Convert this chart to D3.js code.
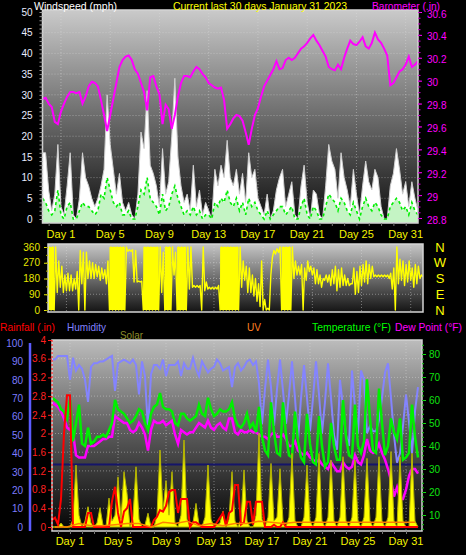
<!DOCTYPE html>
<html><head><meta charset="utf-8">
<script src="https://cdn.jsdelivr.net/npm/d3@7/dist/d3.min.js"></script>
<style>
html,body{margin:0;padding:0;background:#000;}
svg{display:block;font-family:"Liberation Sans",Arial,sans-serif;}
</style></head><body>
<svg id="c" width="466" height="555"></svg>
<script>
// ---------- DATA (one sample every 0.25 day, 123 samples, day 0 .. 30.5) ----------
const sampleStep = 0.25;
const dayLabels = ["Day 1","Day 5","Day 9","Day 13","Day 17","Day 21","Day 25","Day 31"];
const dayLabelPos = [1.5,5.5,9.5,13.5,17.5,21.5,25.5,29.5];
const windTicks = [0,5,10,15,20,25,30,35,40,45,50];
const baroTicks = [28.8,29.0,29.2,29.4,29.6,29.8,30.0,30.2,30.4,30.6];
const dirTicks = [0,90,180,270,360];
const dirLetters = ["N","E","S","W","N"];
const humTicks = [0,10,20,30,40,50,60,70,80,90,100];
const rainTicks = [0,0.4,0.8,1.2,1.6,2,2.4,2.8,3.2,3.6,4];
const tempTicks = [10,20,30,40,50,60,70,80];

const windGust = [
 16,16,7,2, 6,18,3,1, 8,16,1,0, 5,16,10,8, 5,3,5,8,
 12,30,18,12, 6,11,4,2, 4,1,0,6, 21,17,31,13, 11,8,3,17,
 6,9,20,34, 15,8,4,6, 2,13,3,7, 1,4,2,0, 12,8,13,10,
 19,10,8,12, 6,11,4,16, 10,12,5,3, 1,6,0,2, 7,10,12,3,
 6,9,1,0, 8,13,4,0, 7,6,1,0, 8,18,14,12, 5,16,10,7,
 3,12,6,1, 8,14,9,7, 12,10,3,0, 0,8,11,17, 12,6,9,3,
 9,5,2];
const windAvg = [
 5,4,2,1, 2,7,1,0, 3,4,0,0, 2,4,3,3, 2,1,2,6,
 5,10,7,4, 3,4,1,1, 2,0,0,3, 7,6,10,5, 4,3,1,6,
 2,3,6,8, 5,3,1,2, 1,3,1,2, 0,1,1,0, 4,3,5,4,
 7,4,3,5, 2,4,1,5, 3,4,2,1, 0,2,0,1, 2,3,3,1,
 2,3,0,0, 3,5,1,0, 3,2,0,0, 3,6,5,4, 2,5,4,2,
 1,4,2,0, 3,5,3,2, 4,3,1,0, 0,3,4,5, 4,2,3,1,
 4,2,1];
const barometer = [
 29.84,29.85,29.80,29.77, 29.64,29.62,29.73,29.80, 29.86,29.90,29.90,29.89,
 29.90,29.80,29.86,29.95, 29.99,29.98,29.95,29.83, 29.70,29.56,29.70,29.84,
 29.98,30.12,30.18,30.21, 30.22,30.18,30.10,30.06, 29.98,29.90,29.74,30.03,
 30.04,29.95,29.88,29.62, 29.79,29.75,29.58,29.70, 29.86,29.98,30.04,30.04,
 30.03,30.08,30.12,30.10, 30.06,30.03,29.98,29.96, 29.94,29.93,29.94,29.83,
 29.58,29.62,29.67,29.70, 29.69,29.65,29.55,29.44, 29.58,29.70,29.76,29.86,
 29.95,30.00,30.05,30.10, 30.17,30.10,30.11,30.18, 30.20,30.18,30.20,30.24,
 30.28,30.30,30.33,30.37, 30.40,30.35,30.31,30.26, 30.21,30.12,30.10,30.09,
 30.14,30.10,30.20,30.28, 30.35,30.32,30.31,30.34, 30.38,30.30,30.28,30.33,
 30.42,30.36,30.33,30.28, 30.22,29.96,29.98,30.03, 30.08,30.10,30.14,30.21,
 30.12,30.14,30.17];
const dirLow = [
 0,0,0,100, 130,100,110,110, 110,120,0,150, 0,180,180,180, 190,170,180,150,
 0,0,0,0, 0,0,335,335, 160,160,160,0, 0,0,0,0,
 0,100,0,0, 0,200,0,0, 0,0,120,130, 130,130,0,110, 120,120,120,120,
 0,0,0,0, 0,0,0,130, 170,100,100,80, 50,20,0,0,
 0,300,320,330, 0,0,0,0, 180,200,200,0, 170,220,200,150,
 150,130,170,160, 140,150,110,130, 140,140,140,150, 90,100,140,160,
 150,180,190,190, 190,190,190,180, 120,0,150,170, 140,160,170,130,
 150,180,190];
const dirHigh = [
 360,360,360,280, 250,200,210,200, 180,220,340,330, 330,280,270,260, 250,240,230,280,
 360,360,360,360, 360,360,345,345, 340,165,165,360, 360,360,360,360,
 360,330,360,360, 360,330,360,360, 360,360,360,140, 140,140,360,160, 130,130,130,140,
 360,360,360,360, 360,360,360,280, 250,240,200,180, 150,280,60,10,
 200,340,350,360, 360,360,360,360, 280,250,260,240, 280,250,240,230,
 200,180,200,200, 230,250,230,240, 200,180,150,240, 220,250,260,280,
 260,250,200,200, 200,200,200,210, 240,360,290,280, 260,280,240,260,
 250,200,200];
const humidity = [
 91,91,93,93, 93,93,80,92, 85,88,86,80, 68,87,89,89, 90,90,91,92,
 93,74,89,90, 91,90,89,91, 88,72,90,82, 53,83,88,88, 86,91,82,88,
 88,88,90,82, 89,86,86,92, 86,82,90,87, 84,86,87,91, 89,85,86,87,
 76,87,89,85, 87,90,91,88, 90,78,56,75, 91,76,55,75, 91,74,56,72,
 90,70,47,70, 88,70,52,70, 90,72,51,68, 89,70,50,42, 80,65,50,44,
 85,65,51,85, 80,51,55,52, 52,58,70,84, 89,70,50,35, 40,55,72,57,
 40,63,76];
const temperature = [
 61,60,59,56, 55,52,60,42, 50,58,41,40, 48,41,42,44, 44,45,44,47,
 50,60,56,55, 54,52,50,51, 53,56,55,50, 47,54,57,58, 63,57,56,56,
 55,50,49,54, 54,52,51,52, 53,58,54,53, 61,56,53,54, 56,55,55,56,
 59,52,49,48, 50,54,48,50, 46,57,44,38, 36,59,46,37, 36,59,45,36,
 35,55,42,35, 33,54,41,33, 32,53,40,31, 33,50,40,34, 34,60,44,36,
 35,58,40,37, 42,69,52,38, 37,65,50,36, 40,52,46,43, 52,34,35,37,
 58,44,35];
const dewPoint = [
 59,58,57,55, 52,48,47,46, 36,35,35,35, 40,40,40,41, 42,43,43,44,
 44,53,52,51, 50,50,47,46, 47,50,48,45, 38,47,51,50, 50,51,49,50,
 51,45,41,47, 46,45,46,46, 48,50,49,48, 51,48,47,49, 50,48,47,52,
 52,46,45,47, 46,46,47,46, 46,45,44,44, 43,45,46,44, 44,45,43,40,
 40,42,38,37, 36,37,35,34, 33,34,32,31, 30,33,31,29, 29,33,31,30,
 31,36,33,32, 36,43,38,37, 38,41,37,34, 30,25,18,22, 17,17,21,27,
 30,30,28];
const rainfall = [
 0.15,0.2,0.05,0.6, 2.0,2.82,2.82,0, 0,0,0,0, 0.3,0.3,0,0, 0,0,0,0,
 0.55,0.86,0.3,0, 0.33,0.4,0.6,0, 0,0,0,0, 0,0,0.15,0.22, 0.36,0.33,0.45,0.75,
 0.79,0.79,0.3,0.6, 0.6,0.6,0,0.1, 0.1,0.05,0,0, 0,0,0,0.1, 0.2,0.3,0.02,0.3,
 0.35,0.9,0.9,0.05, 0.1,0.54,0.54,0.05, 0.54,0.54,0.54,0, 0,0,0.05,0, 0,0.1,0,0,
 0,0,0,0, 0,0,0,0, 0,0,0,0, 0,0,0,0, 0,0,0,0,
 0,0,0,0, 0,0,0,0, 0,0,0,0, 0,0,0,0, 0,0,0,0,
 0,0,0];
const solar = [
 0,0,0,20, 0,0,0,40, 315,60,0,30, 103,20,0,20, 98,10,0,147,
 30,60,255,40, 281,172,0,50, 306,40,0,10, 70,0,0,60, 391,80,236,60,
 281,20,0,60, 442,40,0,20, 120,10,0,50, 315,40,0,10, 20,80,0,40,
 281,30,0,40, 290,30,0,0, 60,476,40,0, 50,323,30,50, 296,30,0,50,
 374,30,0,0, 50,315,30,0, 50,374,30,0, 50,340,30,0, 50,357,30,0,
 50,340,30,0, 50,349,30,0, 50,357,30,0, 50,383,30,0, 357,30,0,0,
 374,30,0];
const uvDaily = [0,0,0.3,0.1,0.1,0.2,0.3,0.3,0,0.4,0.3,0.5,0.1,0.3,0.1,0.3,0.3,0.5,0.4,0.3,0.4,0.4,0.4,0.4,0.4,0.4,0.4,0.4,0.4,0.4,0.4];

// ---------- DRAWING ----------
const svg = d3.select("#c");
const defs = svg.append("defs");
function grad(id, stops){
  const g = defs.append("linearGradient").attr("id",id).attr("x1",0).attr("y1",0).attr("x2",0).attr("y2",1);
  stops.forEach(s=>g.append("stop").attr("offset",s[0]).attr("stop-color",s[1]));
}
grad("gTop",[[0,"#cacaca"],[0.5,"#6c6c6c"],[1,"#0e0e0e"]]);
grad("gMid",[[0,"#c6c6c6"],[1,"#141414"]]);
grad("gBot",[[0,"#bcbcbc"],[0.5,"#585858"],[1,"#040404"]]);
function clip(id,x,y,w,h){defs.append("clipPath").attr("id",id).append("rect").attr("x",x).attr("y",y).attr("width",w).attr("height",h);}

const tAt = i => i*sampleStep;
const dom = [0,30.5];

const P1 = {x0:42.5,x1:418,y0:10,y1:223};
const P2 = {x0:48,x1:423,y0:244,y1:312};
const P3 = {x0:52,x1:422,y0:340,y1:531};

const xT = d3.scaleLinear(dom,[P1.x0,P1.x1]);
const yW = d3.scaleLinear([0,50],[219,12]);
const yB = d3.scaleLinear([28.8,30.6],[218,12]);
const xM = d3.scaleLinear(dom,[P2.x0,P2.x1]);
const yD = d3.scaleLinear([0,360],[310,247]);
const xL = d3.scaleLinear(dom,[52,418]);
const yT = d3.scaleLinear([0,80],[538,354]);
const yH = d3.scaleLinear([0,100],[527,343]);
const yR = d3.scaleLinear([0,4],[527,340]);
const yS = d3.scaleLinear([0,950],[527,340]);
const yU = d3.scaleLinear([0,16],[527,340]);

function panelBg(P,g){
  svg.append("rect").attr("x",P.x0).attr("y",P.y0).attr("width",P.x1-P.x0).attr("height",P.y1-P.y0)
    .attr("fill","url(#"+g+")");
}
function hgrid(P,ys,g){
  g.selectAll(null).data(ys).join("line").attr("x1",P.x0).attr("x2",P.x1).attr("y1",d=>d).attr("y2",d=>d)
   .attr("stroke","#dcdcdc").attr("stroke-opacity",0.45).attr("stroke-dasharray","1,2");
}
function vgrid(P,xs,g){
  g.selectAll(null).data(xs).join("line").attr("y1",P.y0).attr("y2",P.y1).attr("x1",d=>d).attr("x2",d=>d)
   .attr("stroke","#dcdcdc").attr("stroke-opacity",0.45).attr("stroke-dasharray","1,2");
}
function frame(P){
  svg.append("rect").attr("x",P.x0).attr("y",P.y0).attr("width",P.x1-P.x0).attr("height",P.y1-P.y0)
    .attr("fill","none").attr("stroke","#d4d4d4").attr("stroke-width",1.5);
}
function styleAxis(g,color,fs){
  g.select(".domain").remove();
  g.selectAll("line").attr("stroke",color);
  g.selectAll("text").attr("fill",color).style("font-size",fs+"px").style("font-family","'Liberation Sans',Arial,sans-serif");
}
const fmt = d => (+d.toFixed(1)).toString();

// ===== TOP PANEL =====
panelBg(P1,"gTop");
clip("c1",P1.x0,P1.y0,P1.x1-P1.x0,P1.y1-P1.y0);
const g1 = svg.append("g").attr("clip-path","url(#c1)");
hgrid(P1,windTicks.slice(1,-1).map(yW),g1);
vgrid(P1,dayLabelPos.map(xT),g1);

g1.append("path").datum(windGust)
  .attr("d",d3.area().x((d,i)=>xT(tAt(i))).y0(P1.y1).y1(d=>yW(d)))
  .attr("fill","#ffffff").attr("stroke","#cfcfcf").attr("stroke-width",1);
g1.append("path").datum(windAvg)
  .attr("d",d3.area().x((d,i)=>xT(tAt(i))).y0(P1.y1).y1(d=>yW(d)))
  .attr("fill","#c4f4c4");
g1.append("path").datum(windAvg)
  .attr("d",d3.line().x((d,i)=>xT(tAt(i))).y(d=>yW(d)))
  .attr("fill","none").attr("stroke","#00ee00").attr("stroke-width",1.6).attr("stroke-dasharray","3,3");
g1.append("path").datum(barometer)
  .attr("d",d3.line().x((d,i)=>xT(tAt(i))).y(d=>yB(d)))
  .attr("fill","none").attr("stroke","#ff00ff").attr("stroke-width",2);
frame(P1);

const aw = svg.append("g").attr("transform",`translate(${P1.x0},0)`)
  .call(d3.axisLeft(yW).tickValues(windTicks).tickSize(0).tickPadding(10));
styleAxis(aw,"#e8ecff",10);
const awm = svg.append("g").attr("transform",`translate(${P1.x0},0)`)
  .call(d3.axisLeft(yW).tickValues(d3.range(0,51,1)).tickSize(3).tickFormat(""));
styleAxis(awm,"#9a9a9a",10);
const ab = svg.append("g").attr("transform",`translate(${P1.x1},0)`)
  .call(d3.axisRight(yB).tickValues(baroTicks).tickSize(4).tickPadding(5).tickFormat(fmt));
styleAxis(ab,"#ff00ff",10);
ab.selectAll("text").attr("dy","0.5em");
const abm = svg.append("g").attr("transform",`translate(${P1.x1},0)`)
  .call(d3.axisRight(yB).tickValues(d3.range(28.8,30.61,0.05)).tickSize(2.5).tickFormat(""));
styleAxis(abm,"#d000d0",10);
const ax1 = svg.append("g").attr("transform",`translate(0,${P1.y1})`)
  .call(d3.axisBottom(xT).tickValues(d3.range(0.5,30.5,1)).tickSize(3).tickFormat(""));
styleAxis(ax1,"#777",10);
svg.append("g").selectAll("text").data(dayLabels).join("text")
  .attr("x",(d,i)=>xT(dayLabelPos[i])).attr("y",237.5).attr("text-anchor","middle")
  .attr("fill","#f4f400").style("font-size","11px").text(d=>d);

// ===== MIDDLE PANEL =====
panelBg(P2,"gMid");
clip("c2",P2.x0,P2.y0,P2.x1-P2.x0,P2.y1-P2.y0);
const g2 = svg.append("g").attr("clip-path","url(#c2)");
hgrid(P2,[90,180,270].map(yD),g2);
vgrid(P2,dayLabelPos.map(xM),g2);
const dirPairs = d3.zip(dirLow,dirHigh);
g2.append("path").datum(dirPairs)
  .attr("d",d3.area().defined(d=>d[1]-d[0]>=300).x((d,i)=>xM(tAt(i))).y0(d=>yD(d[0])).y1(d=>yD(d[1])))
  .attr("fill","#ffff00");
const zig = dirPairs.flatMap((d,i)=>[[tAt(i),d[0]],[tAt(i)+sampleStep/2,d[1]]]);
g2.append("path").datum(zig)
  .attr("d",d3.line().x(d=>xM(d[0])).y(d=>yD(d[1])))
  .attr("fill","none").attr("stroke","#ffff00").attr("stroke-width",1.4).attr("stroke-linejoin","round");
frame(P2);
const ad = svg.append("g").attr("transform",`translate(${P2.x0},0)`)
  .call(d3.axisLeft(yD).tickValues(dirTicks).tickSize(4).tickPadding(4));
styleAxis(ad,"#e8e800",10);
const adm = svg.append("g").attr("transform",`translate(${P2.x0},0)`)
  .call(d3.axisLeft(yD).tickValues(d3.range(0,361,45)).tickSize(2).tickFormat(""));
styleAxis(adm,"#b0b000",10);
svg.append("g").selectAll("text").data(dirLetters).join("text")
  .attr("x",440).attr("y",(d,i)=>yD(dirTicks[i])+4.5).attr("text-anchor","middle")
  .attr("fill","#ffff00").style("font-size","13px").text(d=>d);

// ===== BOTTOM PANEL =====
panelBg(P3,"gBot");
clip("c3",P3.x0,P3.y0,P3.x1-P3.x0,P3.y1-P3.y0);
const g3 = svg.append("g").attr("clip-path","url(#c3)");
hgrid(P3,rainTicks.slice(1,-1).map(yR),g3);
vgrid(P3,dayLabelPos.map(xL),g3);
g3.append("line").attr("x1",P3.x0).attr("x2",P3.x1).attr("y1",yT(32)).attr("y2",yT(32))
  .attr("stroke","#15156a").attr("stroke-width",2);
const lineL = sc => d3.line().x((d,i)=>xL(tAt(i))).y(d=>sc(d));
g3.append("path").datum(humidity).attr("d",lineL(yH))
  .attr("fill","none").attr("stroke","#8484ff").attr("stroke-width",2);
g3.append("path").datum(dewPoint).attr("d",lineL(yT))
  .attr("fill","none").attr("stroke","#ff00ff").attr("stroke-width",2.5);
g3.append("path").datum(temperature).attr("d",lineL(yT))
  .attr("fill","none").attr("stroke","#00f000").attr("stroke-width",2.5);
g3.append("path").datum(solar)
  .attr("d",d3.area().x((d,i)=>xL(tAt(i))).y0(527).y1(d=>yS(d)))
  .attr("fill","#ffff00").attr("stroke","#b4b400").attr("stroke-width",1);
g3.append("path").datum(rainfall).attr("d",lineL(yR))
  .attr("fill","none").attr("stroke","#ff0000").attr("stroke-width",2);
g3.append("path").datum(uvDaily)
  .attr("d",d3.line().x((d,i)=>xL(i+0.25)).y(d=>yU(d)))
  .attr("fill","none").attr("stroke","#ff8000").attr("stroke-width",1.5);
frame(P3);
svg.append("line").attr("x1",P3.x0).attr("x2",P3.x0).attr("y1",P3.y0).attr("y2",P3.y1)
  .attr("stroke","#ff2020").attr("stroke-width",1.2).attr("stroke-dasharray","2,2");
svg.append("line").attr("x1",30).attr("x2",30).attr("y1",343).attr("y2",531)
  .attr("stroke","#5c5cff").attr("stroke-width",2.5);
const ah = svg.append("g").attr("transform","translate(30,0)")
  .call(d3.axisLeft(yH).tickValues(humTicks).tickSize(0).tickPadding(7));
styleAxis(ah,"#7c7cff",10);
const ar = svg.append("g").attr("transform",`translate(${P3.x0},0)`)
  .call(d3.axisLeft(yR).tickValues(rainTicks).tickSize(4).tickPadding(2).tickFormat(fmt));
styleAxis(ar,"#ff2020",10);
const at = svg.append("g").attr("transform",`translate(${P3.x1},0)`)
  .call(d3.axisRight(yT).tickValues(tempTicks).tickSize(4).tickPadding(3));
styleAxis(at,"#10e010",10);
const atm = svg.append("g").attr("transform",`translate(${P3.x1},0)`)
  .call(d3.axisRight(yT).tickValues(d3.range(4,86,2)).tickSize(2).tickFormat(""));
styleAxis(atm,"#10c010",10);
const ax3 = svg.append("g").attr("transform",`translate(0,${P3.y1})`)
  .call(d3.axisBottom(xL).tickValues(d3.range(0.5,30.5,1)).tickSize(3).tickFormat(""));
styleAxis(ax3,"#777",10);
svg.append("g").selectAll("text").data(dayLabels).join("text")
  .attr("x",(d,i)=>xL(dayLabelPos[i])).attr("y",545).attr("text-anchor","middle")
  .attr("fill","#f4f400").style("font-size","11px").text(d=>d);

// ===== HEADERS =====
const headers = [
  {t:"Windspeed (mph)",x:34,y:10,w:83,fs:10.5,c:"#ffffff"},
  {t:"Current last 30 days January 31 2023",x:173,y:10,w:174,fs:10.5,c:"#ffff00"},
  {t:"Barometer (.in)",x:372,y:10,w:68,fs:10.5,c:"#ff00ff"},
  {t:"Rainfall (.in)",x:0,y:331,w:55,fs:11,c:"#ff0000"},
  {t:"Humidity",x:67,y:331,w:39,fs:11,c:"#8080ff"},
  {t:"Solar",x:120,y:339,w:23,fs:10.5,c:"#8e8e2a"},
  {t:"UV",x:247,y:331,w:14,fs:11,c:"#ff8020"},
  {t:"Temperature (°F)",x:312,y:331,w:79,fs:10.5,c:"#00ff00"},
  {t:"Dew Point (°F)",x:395,y:331,w:67,fs:10.5,c:"#ff00ff"}
];
svg.append("g").selectAll("text").data(headers).join("text")
  .attr("x",d=>d.x).attr("y",d=>d.y).attr("fill",d=>d.c)
  .attr("textLength",d=>d.w).attr("lengthAdjust","spacingAndGlyphs")
  .style("font-size",d=>d.fs+"px").text(d=>d.t);
</script>
</body></html>
